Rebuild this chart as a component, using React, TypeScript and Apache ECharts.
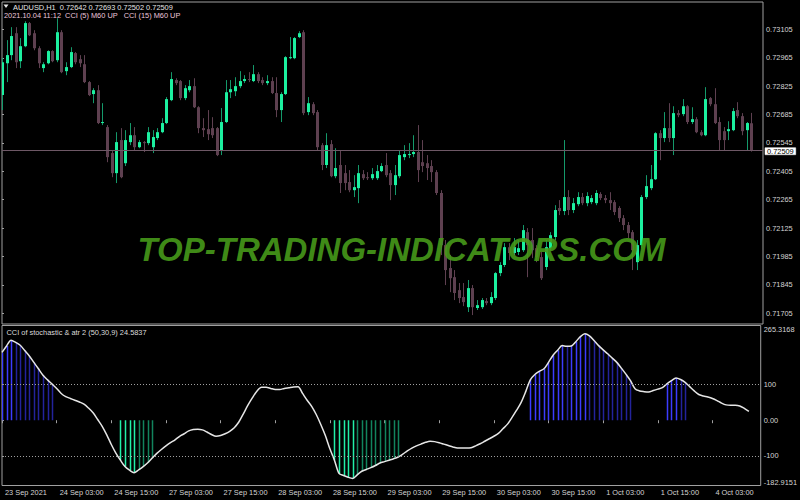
import React, { useEffect, useRef } from "react";
import * as echarts from "echarts";

const timeLabels = [
  "23 Sep 2021", "24 Sep 03:00", "24 Sep 15:00", "27 Sep 03:00", "27 Sep 15:00",
  "28 Sep 03:00", "28 Sep 15:00", "29 Sep 03:00", "29 Sep 15:00", "30 Sep 03:00",
  "30 Sep 15:00", "1 Oct 03:00", "1 Oct 15:00", "4 Oct 03:00",
];

const open = [
  0.72781, 0.72938, 0.72978, 0.73086, 0.72948, 0.73022, 0.73136, 0.73086, 0.73012, 0.72914,
  0.72938, 0.72998, 0.72953, 0.73091, 0.72899, 0.72919, 0.72988, 0.72958, 0.72933, 0.72845,
  0.72786, 0.72805, 0.72643, 0.72623, 0.72495, 0.72396, 0.72559, 0.72445, 0.72549, 0.72583,
  0.72524, 0.72549, 0.72544, 0.72524, 0.72569, 0.72598, 0.72643, 0.72756, 0.72855, 0.72850,
  0.72766, 0.72805, 0.72825, 0.72721, 0.72618, 0.72613, 0.72618, 0.72618, 0.72509, 0.72648,
  0.72795, 0.72800, 0.72825, 0.72850, 0.72860, 0.72850, 0.72884, 0.72855, 0.72840, 0.72850,
  0.72791, 0.72707, 0.72786, 0.72963, 0.72963, 0.73067, 0.73091, 0.72697, 0.72736, 0.72697,
  0.72534, 0.72436, 0.72539, 0.72381, 0.72436, 0.72396, 0.72352, 0.72312, 0.72322, 0.72391,
  0.72376, 0.72371, 0.72371, 0.72406, 0.72436, 0.72396, 0.72337, 0.72381, 0.72475, 0.72485,
  0.72490, 0.72500, 0.72450, 0.72445, 0.72431, 0.72401, 0.72298, 0.72041, 0.71928, 0.71883,
  0.71819, 0.71785, 0.71735, 0.71829, 0.71731, 0.71735, 0.71765, 0.71755, 0.71780, 0.71903,
  0.71943, 0.72031, 0.72002, 0.72007, 0.72016, 0.72105, 0.72066, 0.72026, 0.71982, 0.71933,
  0.72026, 0.72081, 0.72224, 0.72209, 0.72278, 0.72214, 0.72243, 0.72278, 0.72248, 0.72253,
  0.72248, 0.72293, 0.72273, 0.72263, 0.72253, 0.72224, 0.72174, 0.72140, 0.72105, 0.71957,
  0.72041, 0.72278, 0.72322, 0.72366, 0.72593, 0.72569, 0.72618, 0.72569, 0.72692, 0.72687,
  0.72726, 0.72648, 0.72662, 0.72598, 0.72583, 0.72766, 0.72736, 0.72648, 0.72603, 0.72603,
  0.72608, 0.72707, 0.72677, 0.72608, 0.72642,
];
const close = [
  0.72943, 0.72978, 0.73072, 0.72943, 0.73022, 0.73136, 0.73076, 0.73012, 0.72938, 0.72933,
  0.72998, 0.72948, 0.73091, 0.72894, 0.72919, 0.72993, 0.72943, 0.72938, 0.72845, 0.72781,
  0.72805, 0.72643, 0.72648, 0.72475, 0.72396, 0.72549, 0.72376, 0.72559, 0.72583, 0.72524,
  0.72549, 0.72544, 0.72598, 0.72574, 0.72598, 0.72643, 0.72761, 0.72860, 0.72840, 0.72766,
  0.72815, 0.72825, 0.72721, 0.72618, 0.72608, 0.72588, 0.72583, 0.72485, 0.72648, 0.72795,
  0.72810, 0.72825, 0.72850, 0.72860, 0.72855, 0.72884, 0.72850, 0.72840, 0.72850, 0.72791,
  0.72707, 0.72786, 0.72968, 0.72968, 0.73062, 0.73086, 0.72692, 0.72741, 0.72692, 0.72524,
  0.72436, 0.72534, 0.72381, 0.72421, 0.72347, 0.72347, 0.72312, 0.72327, 0.72396, 0.72371,
  0.72371, 0.72391, 0.72406, 0.72431, 0.72386, 0.72337, 0.72386, 0.72485, 0.72490, 0.72490,
  0.72500, 0.72411, 0.72431, 0.72421, 0.72401, 0.72298, 0.72041, 0.71918, 0.71878, 0.71805,
  0.71780, 0.71760, 0.71829, 0.71735, 0.71745, 0.71770, 0.71755, 0.71785, 0.71903, 0.71943,
  0.72031, 0.72002, 0.72031, 0.72026, 0.72115, 0.72041, 0.72016, 0.71982, 0.71878, 0.72031,
  0.72090, 0.72214, 0.72209, 0.72278, 0.72214, 0.72248, 0.72278, 0.72248, 0.72283, 0.72273,
  0.72298, 0.72273, 0.72263, 0.72248, 0.72204, 0.72174, 0.72140, 0.72100, 0.72016, 0.72041,
  0.72278, 0.72332, 0.72366, 0.72593, 0.72569, 0.72618, 0.72569, 0.72692, 0.72682, 0.72726,
  0.72648, 0.72662, 0.72598, 0.72583, 0.72761, 0.72736, 0.72643, 0.72559, 0.72559, 0.72613,
  0.72702, 0.72677, 0.72603, 0.72643, 0.72509,
];
const low = [
  0.72707, 0.72845, 0.72953, 0.72914, 0.72914, 0.73017, 0.73072, 0.73002, 0.72914, 0.72894,
  0.72933, 0.72943, 0.72943, 0.72889, 0.72879, 0.72914, 0.72933, 0.72919, 0.72840, 0.72776,
  0.72741, 0.72638, 0.72633, 0.72450, 0.72376, 0.72347, 0.72371, 0.72431, 0.72534, 0.72509,
  0.72519, 0.72500, 0.72534, 0.72495, 0.72559, 0.72593, 0.72638, 0.72751, 0.72830, 0.72756,
  0.72756, 0.72795, 0.72717, 0.72593, 0.72574, 0.72559, 0.72569, 0.72480, 0.72485, 0.72643,
  0.72766, 0.72776, 0.72815, 0.72840, 0.72845, 0.72845, 0.72840, 0.72830, 0.72830, 0.72786,
  0.72672, 0.72648, 0.72781, 0.72958, 0.72958, 0.73062, 0.72682, 0.72682, 0.72682, 0.72509,
  0.72411, 0.72421, 0.72376, 0.72371, 0.72298, 0.72312, 0.72302, 0.72278, 0.72248, 0.72362,
  0.72362, 0.72362, 0.72362, 0.72401, 0.72376, 0.72263, 0.72288, 0.72371, 0.72460, 0.72470,
  0.72475, 0.72352, 0.72401, 0.72362, 0.72352, 0.72288, 0.71992, 0.71844, 0.71809, 0.71770,
  0.71755, 0.71740, 0.71711, 0.71696, 0.71721, 0.71726, 0.71745, 0.71745, 0.71770, 0.71888,
  0.71933, 0.71967, 0.71992, 0.71992, 0.72007, 0.71883, 0.71977, 0.71957, 0.71869, 0.71918,
  0.72016, 0.72066, 0.72189, 0.72189, 0.72189, 0.72199, 0.72233, 0.72238, 0.72233, 0.72243,
  0.72238, 0.72263, 0.72248, 0.72214, 0.72189, 0.72155, 0.72115, 0.72076, 0.71918, 0.71918,
  0.72026, 0.72268, 0.72312, 0.72362, 0.72460, 0.72549, 0.72549, 0.72485, 0.72672, 0.72677,
  0.72638, 0.72638, 0.72593, 0.72578, 0.72578, 0.72726, 0.72638, 0.72509, 0.72509, 0.72559,
  0.72603, 0.72667, 0.72583, 0.72509, 0.72502,
];
const high = [
  0.72963, 0.73052, 0.73116, 0.73116, 0.73062, 0.73145, 0.73141, 0.73101, 0.73022, 0.72943,
  0.73002, 0.73002, 0.73160, 0.73101, 0.72943, 0.73017, 0.72993, 0.72978, 0.72978, 0.72850,
  0.72815, 0.72830, 0.72741, 0.72633, 0.72509, 0.72598, 0.72618, 0.72608, 0.72643, 0.72623,
  0.72559, 0.72554, 0.72623, 0.72608, 0.72618, 0.72667, 0.72771, 0.72894, 0.72864, 0.72855,
  0.72830, 0.72855, 0.72864, 0.72726, 0.72667, 0.72707, 0.72672, 0.72623, 0.72717, 0.72855,
  0.72855, 0.72869, 0.72899, 0.72879, 0.72894, 0.72929, 0.72894, 0.72869, 0.72879, 0.72869,
  0.72869, 0.72795, 0.72973, 0.73067, 0.73067, 0.73096, 0.73101, 0.72771, 0.72746, 0.72707,
  0.72544, 0.72593, 0.72559, 0.72519, 0.72509, 0.72436, 0.72411, 0.72386, 0.72436, 0.72411,
  0.72401, 0.72421, 0.72436, 0.72445, 0.72495, 0.72411, 0.72436, 0.72509, 0.72534, 0.72544,
  0.72583, 0.72633, 0.72559, 0.72485, 0.72460, 0.72411, 0.72312, 0.72066, 0.71992, 0.71918,
  0.71854, 0.71854, 0.71869, 0.71844, 0.71770, 0.71780, 0.71780, 0.71809, 0.71908, 0.71957,
  0.72051, 0.72051, 0.72076, 0.72066, 0.72140, 0.72125, 0.72125, 0.72041, 0.72007, 0.72066,
  0.72105, 0.72238, 0.72263, 0.72559, 0.72312, 0.72273, 0.72302, 0.72298, 0.72302, 0.72288,
  0.72312, 0.72302, 0.72288, 0.72302, 0.72263, 0.72233, 0.72189, 0.72155, 0.72115, 0.72066,
  0.72288, 0.72386, 0.72436, 0.72598, 0.72608, 0.72697, 0.72741, 0.72726, 0.72707, 0.72761,
  0.72731, 0.72721, 0.72672, 0.72608, 0.72820, 0.72771, 0.72815, 0.72672, 0.72623, 0.72652,
  0.72717, 0.72746, 0.72692, 0.72648, 0.72693,
];

const cci = [
  190, 208, 224, 218, 210, 195, 180, 162, 144, 126,
  113, 101, 89, 75, 66, 61, 56, 51, 45, 34,
  21, 2, -17, -41, -68, -92, -112, -130, -140, -147,
  -139, -130, -119, -106, -93, -82, -72, -63, -55, -45,
  -38, -30, -26, -25, -27, -33, -40, -45, -43, -38,
  -31, -21, -5, 18, 42, 63, 82, 92, 92, 89,
  86, 86, 89, 91, 93, 94, 75, 56, 39, 16,
  -12, -43, -80, -112, -149, -155, -160, -163, -153, -143,
  -138, -133, -127, -120, -116, -112, -108, -103, -95, -86,
  -78, -72, -67, -62, -59, -60, -63, -67, -71, -75,
  -78, -78, -78, -77, -72, -66, -59, -52, -45, -37,
  -24, -11, 8, 28, 50, 80, 113, 128, 137, 144,
  162, 182, 196, 209, 207, 208, 220, 234, 242, 236,
  223, 209, 197, 186, 174, 162, 146, 129, 111, 88,
  82, 80, 79, 83, 87, 91, 102, 111, 118, 114,
  106, 94, 82, 72, 68, 65, 61, 55, 48, 43,
  42, 42, 40, 33, 24.5837,
];

const priceTicks = [0.71705, 0.71845, 0.71985, 0.72125, 0.72265, 0.72405, 0.72545, 0.72685, 0.72825, 0.72965, 0.73105];
const cciTicks = [-182.9151, -100, 0, 100, 265.3168];
const lastPrice = 0.72509;

const FONT = "Liberation Sans";
const FS = 7.4;

export default function App() {
  const ref = useRef<HTMLDivElement>(null);
  useEffect(() => {
    const chart = echarts.init(ref.current!, null, { renderer: "svg" });
    const candles = open.map((o, i) => [i, o, close[i], low[i], high[i]]);
    const cciLine = cci.map((v, i) => [i, v]);
    const hist: number[][] = [];
    cci.forEach((v, i) => {
      if (Math.abs(v) >= 100) {
        const rising = i === 0 || Math.abs(v) > Math.abs(cci[i - 1]);
        hist.push([i, v, rising ? 1 : 0]);
      }
    });
    const xMax = 166.6;
    const xTicks = timeLabels.map((_, k) => k * 12);
    const labelStyle = { color: "#d4d4d4", fontSize: FS, fontFamily: FONT };

    chart.setOption({
      animation: false,
      backgroundColor: "#000000",
      grid: [
        { left: 2, right: 37, top: 2, height: 322, show: true, borderColor: "#a0a0a0", borderWidth: 1 },
        { left: 2, right: 37, top: 325.5, height: 160, show: true, borderColor: "#a0a0a0", borderWidth: 1 },
      ],
      xAxis: [
        { gridIndex: 0, type: "value", min: 0, max: xMax, show: false },
        {
          gridIndex: 1, type: "value", min: 0, max: xMax,
          axisLine: { show: false },
          splitLine: { show: false },
          axisTick: { show: true, customValues: xTicks, length: 3, lineStyle: { color: "#a0a0a0" } },
          axisLabel: {
            ...labelStyle, customValues: xTicks, align: "left", margin: 3, padding: [0, 0, 0, 3],
            formatter: (v: number) => timeLabels[Math.round(v / 12)] ?? "",
          },
        },
      ],
      yAxis: [
        {
          gridIndex: 0, type: "value", position: "right", min: 0.71652, max: 0.7324,
          axisLine: { show: false }, splitLine: { show: false },
          axisTick: { show: true, customValues: priceTicks, length: 2, lineStyle: { color: "#a0a0a0" } },
          axisLabel: { ...labelStyle, customValues: priceTicks, margin: 3, formatter: (v: number) => v.toFixed(5) },
        },
        {
          gridIndex: 1, type: "value", position: "right", min: cciTicks[0], max: cciTicks[cciTicks.length - 1],
          axisLine: { show: false }, splitLine: { show: false },
          axisTick: { show: true, customValues: cciTicks, length: 2, lineStyle: { color: "#a0a0a0" } },
          axisLabel: {
            ...labelStyle, customValues: cciTicks, margin: 3,
            verticalAlignMaxLabel: "top", verticalAlignMinLabel: "bottom",
            formatter: (v: number) => (v === 0 ? "0.00" : Math.abs(v) === 100 ? String(v) : v.toFixed(4)),
          },
        },
      ],
      series: [
        {
          type: "custom", xAxisIndex: 0, yAxisIndex: 0, data: candles, clip: true, z: 2,
          encode: { x: 0, y: [1, 2, 3, 4] },
          renderItem: (params: any, api: any) => {
            const i = api.value(0), o = api.value(1), c = api.value(2), l = api.value(3), h = api.value(4);
            const pO = api.coord([i, o]), pC = api.coord([i, c]), pL = api.coord([i, l]), pH = api.coord([i, h]);
            const cx = Math.round(pO[0]);
            const bull = c >= o;
            const top = Math.min(pO[1], pC[1]);
            const bh = Math.max(1, Math.abs(pO[1] - pC[1]));
            return {
              type: "group",
              children: [
                { type: "line", shape: { x1: cx + 0.5, y1: pH[1], x2: cx + 0.5, y2: pL[1] }, style: { stroke: bull ? "#14996a" : "#5e4050", lineWidth: 1 } },
                { type: "rect", shape: { x: cx - 1, y: top, width: 3, height: bh }, style: { fill: bull ? "#1cf0a0" : "#5e4050" } },
              ],
            };
          },
        },
        {
          type: "line", xAxisIndex: 0, yAxisIndex: 0, data: [[close.length - 1, lastPrice]],
          symbol: "none", showSymbol: false, lineStyle: { opacity: 0 }, z: 1,
          markLine: {
            silent: true, symbol: ["none", "none"], animation: false, precision: 5,
            lineStyle: { color: "#6e5866", type: "solid", width: 1 },
            label: {
              show: true, position: "end", distance: 2, formatter: lastPrice.toFixed(5),
              color: "#000", backgroundColor: "#ffffff", borderColor: "#888", borderWidth: 0.5,
              padding: [0, 2, 0, 2], offset: [0, 1], fontSize: FS, fontFamily: FONT,
            },
            data: [{ yAxis: lastPrice }],
          },
        },
        {
          type: "custom", xAxisIndex: 1, yAxisIndex: 1, data: hist, clip: true, z: 2,
          encode: { x: 0, y: 1 },
          renderItem: (params: any, api: any) => {
            const i = api.value(0), v = api.value(1), b = api.value(2);
            const p0 = api.coord([i, 0]), p1 = api.coord([i, v]);
            const col = v > 0 ? (b ? "#3c3cff" : "#23239c") : (b ? "#22f0a8" : "#12845e");
            const x = Math.round(p0[0]) + 0.5;
            return { type: "line", shape: { x1: x, y1: p0[1], x2: x, y2: p1[1] }, style: { stroke: col, lineWidth: 1.5 } };
          },
        },
        {
          type: "line", xAxisIndex: 1, yAxisIndex: 1, data: cciLine, symbol: "none", showSymbol: false,
          smooth: 0.3, z: 3, lineStyle: { color: "#e6e6e6", width: 1.5 },
          markLine: {
            silent: true, symbol: ["none", "none"], animation: false, label: { show: false },
            lineStyle: { color: "#a0a0a0", type: [1, 2], width: 1 },
            data: [{ yAxis: 100 }, { yAxis: -100 }],
          },
        },
      ],
      graphic: [
        { type: "polygon", shape: { points: [[3.5, 4.5], [8.5, 4.5], [6, 8]] }, style: { fill: "#e6e6e6" } },
        {
          type: "text", x: 13, y: 7,
          style: { text: "AUDUSD,H1  0.72642 0.72693 0.72502 0.72509", fill: "#e6e6e6", font: `${FS}px "${FONT}"`, verticalAlign: "middle", textVerticalAlign: "middle" },
        },
        {
          type: "text", x: 4, y: 15.3,
          style: { text: "2021.10.04 11:12  CCI (5) M60 UP   CCI (15) M60 UP", fill: "#ecc6dc", font: `${FS}px "${FONT}"`, verticalAlign: "middle", textVerticalAlign: "middle" },
        },
        {
          type: "text", x: 6.5, y: 332,
          style: { text: "CCI of stochastic & atr 2 (50,30,9) 24.5837", fill: "#dcdcdc", font: `${FS}px "${FONT}"`, verticalAlign: "middle", textVerticalAlign: "middle" },
        },
        {
          type: "text", x: 401.5, y: 249, z: 100,
          style: {
            text: "TOP-TRADING-INDICATORS.COM", fill: "#46991a", opacity: 0.92,
            font: `italic bold 33px "${FONT}"`, align: "center", verticalAlign: "middle",
            textAlign: "center", textVerticalAlign: "middle",
          },
        },
      ],
    });
    return () => chart.dispose();
  }, []);
  return <div ref={ref} style={{ position: "fixed", left: 0, top: 0, width: 800, height: 500, background: "#000" }} />;
}
